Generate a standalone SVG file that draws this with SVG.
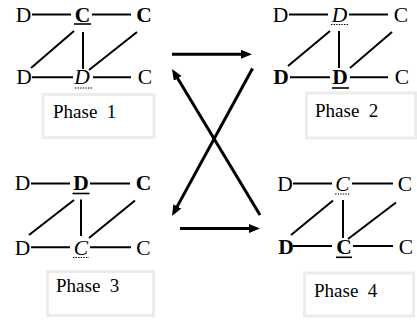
<svg xmlns="http://www.w3.org/2000/svg" width="417" height="323" viewBox="0 0 417 323">
<defs>
<style>
.n{font-family:"Liberation Serif","Times New Roman",serif;font-size:21.5px;fill:#000;text-anchor:middle}
.b{font-weight:bold}
.i{font-style:italic}
.e{stroke:#000;stroke-width:2;fill:none}
.u{stroke:#000;stroke-width:1.6}
.d{stroke:#000;stroke-width:1.2;stroke-dasharray:1.4 1.2}
.box{fill:#fff;stroke:#ececec;stroke-width:3}
.lbl{font-family:"Liberation Serif","Times New Roman",serif;font-size:19px;fill:#000;white-space:pre}
.a{stroke:#000;stroke-width:3;fill:none;marker-end:url(#ah)}
</style>
<marker id="ah" markerUnits="userSpaceOnUse" markerWidth="12" markerHeight="10" refX="6" refY="4.5" orient="auto">
<path d="M0,0 L11,4.5 L0,9 z" fill="#000"/>
</marker>
</defs>
<rect width="417" height="323" fill="#fff"/>

<!-- Phase 1 -->
<g id="phase1">
<g id="p1-edges">
<line class="e" x1="32" y1="14.5" x2="71" y2="14.5"/>
<line class="e" x1="92" y1="14.5" x2="131" y2="14.5"/>
<line class="e" x1="32" y1="77.3" x2="73" y2="77.3"/>
<line class="e" x1="93" y1="77.3" x2="131" y2="77.3"/>
<line class="e" x1="83" y1="32" x2="83" y2="69"/>
<line class="e" x1="74" y1="31" x2="31" y2="68"/>
<line class="e" x1="137" y1="32" x2="89" y2="70"/>
</g>
<g id="p1-a"><text class="n" x="23.5" y="22">D</text></g>
<g id="p1-b"><text class="n b" x="82.5" y="22">C</text><line class="u" x1="74" y1="24" x2="91" y2="24"/></g>
<g id="p1-c"><text class="n b" x="144" y="22">C</text></g>
<g id="p1-d"><text class="n" x="24" y="84">D</text></g>
<g id="p1-e"><text class="n i" x="82" y="84">D</text><line class="d" x1="75" y1="88" x2="92" y2="88"/></g>
<g id="p1-f"><text class="n" x="145" y="84">C</text></g>
</g>
<g id="label1"><rect class="box" x="43" y="94.5" width="111" height="43"/><text class="lbl" x="53" y="117.5">Phase  1</text></g>

<!-- Phase 2 -->
<g id="phase2" transform="translate(257,0)">
<g id="p2-edges">
<line class="e" x1="32" y1="14.5" x2="71" y2="14.5"/>
<line class="e" x1="92" y1="14.5" x2="131" y2="14.5"/>
<line class="e" x1="33" y1="77.3" x2="73" y2="77.3"/>
<line class="e" x1="93" y1="77.3" x2="131" y2="77.3"/>
<line class="e" x1="82" y1="31" x2="82" y2="68"/>
<line class="e" x1="73" y1="31" x2="31" y2="66"/>
<line class="e" x1="135" y1="32" x2="93" y2="68"/>
</g>
<g id="p2-a"><text class="n" x="23.5" y="21.5">D</text></g>
<g id="p2-b"><text class="n i" x="82.5" y="21.5">D</text><line class="d" x1="74" y1="24.5" x2="92" y2="24.5"/></g>
<g id="p2-c"><text class="n" x="144" y="21.5">C</text></g>
<g id="p2-d"><text class="n b" x="24" y="83.5">D</text></g>
<g id="p2-e"><text class="n b" x="83" y="83.5">D</text><line class="u" x1="75" y1="88" x2="92" y2="88"/></g>
<g id="p2-f"><text class="n" x="145" y="83.5">C</text></g>
</g>
<g id="label2"><rect class="box" x="306.5" y="93" width="109" height="45"/><text class="lbl" x="315" y="117">Phase  2</text></g>

<!-- Phase 3 -->
<g id="phase3" transform="translate(-1,170)">
<g id="p3-edges">
<line class="e" x1="32" y1="13.5" x2="71" y2="13.5"/>
<line class="e" x1="91" y1="13.5" x2="131" y2="13.5"/>
<line class="e" x1="32" y1="77.3" x2="71" y2="77.3"/>
<line class="e" x1="91" y1="77.3" x2="132" y2="77.3"/>
<line class="e" x1="82" y1="29.5" x2="82" y2="66"/>
<line class="e" x1="75" y1="30" x2="30" y2="65"/>
<line class="e" x1="136" y1="30.5" x2="90" y2="68"/>
</g>
<g id="p3-a"><text class="n" x="23.5" y="20">D</text></g>
<g id="p3-b"><text class="n b" x="82" y="20">D</text><line class="u" x1="73.5" y1="23.5" x2="90.5" y2="23.5"/></g>
<g id="p3-c"><text class="n b" x="144.5" y="20">C</text></g>
<g id="p3-d"><text class="n" x="23.5" y="85">D</text></g>
<g id="p3-e"><text class="n i" x="82" y="85">C</text><line class="d" x1="74" y1="87.5" x2="90" y2="87.5"/></g>
<g id="p3-f"><text class="n" x="144.5" y="85">C</text></g>
</g>
<g id="label3"><rect class="box" x="47.5" y="271.5" width="106" height="44"/><text class="lbl" x="56" y="292">Phase  3</text></g>

<!-- Phase 4 -->
<g id="phase4" transform="translate(260,170)">
<g id="p4-edges">
<line class="e" x1="33" y1="13.5" x2="72" y2="13.5"/>
<line class="e" x1="92" y1="13.5" x2="133" y2="13.5"/>
<line class="e" x1="33" y1="76" x2="72" y2="76"/>
<line class="e" x1="93" y1="76" x2="133" y2="76"/>
<line class="e" x1="83" y1="30" x2="83" y2="68"/>
<line class="e" x1="73" y1="30.5" x2="31" y2="65"/>
<line class="e" x1="136" y1="32.5" x2="88" y2="69"/>
</g>
<g id="p4-a"><text class="n" x="25" y="21">D</text></g>
<g id="p4-b"><text class="n i" x="82.5" y="21">C</text><line class="d" x1="75" y1="24" x2="90" y2="24"/></g>
<g id="p4-c"><text class="n" x="145" y="21">C</text></g>
<g id="p4-d"><text class="n b" x="26" y="83.5">D</text></g>
<g id="p4-e"><text class="n b" x="84" y="83.5">C</text><line class="u" x1="76" y1="87.3" x2="92" y2="87.3"/></g>
<g id="p4-f"><text class="n" x="146" y="83.5">C</text></g>
</g>
<g id="label4"><rect class="box" x="304.5" y="273" width="109" height="43"/><text class="lbl" x="314" y="296.5">Phase  4</text></g>

<!-- transitions -->
<g id="connectors">
<line class="a" x1="172" y1="54.3" x2="247" y2="54.3"/>
<line class="a" x1="180" y1="228.5" x2="255" y2="228.5"/>
<line class="a" x1="260" y1="215" x2="174.6" y2="73.3"/>
<line class="a" x1="252.5" y1="68.5" x2="174.4" y2="211.6"/>
</g>
</svg>
